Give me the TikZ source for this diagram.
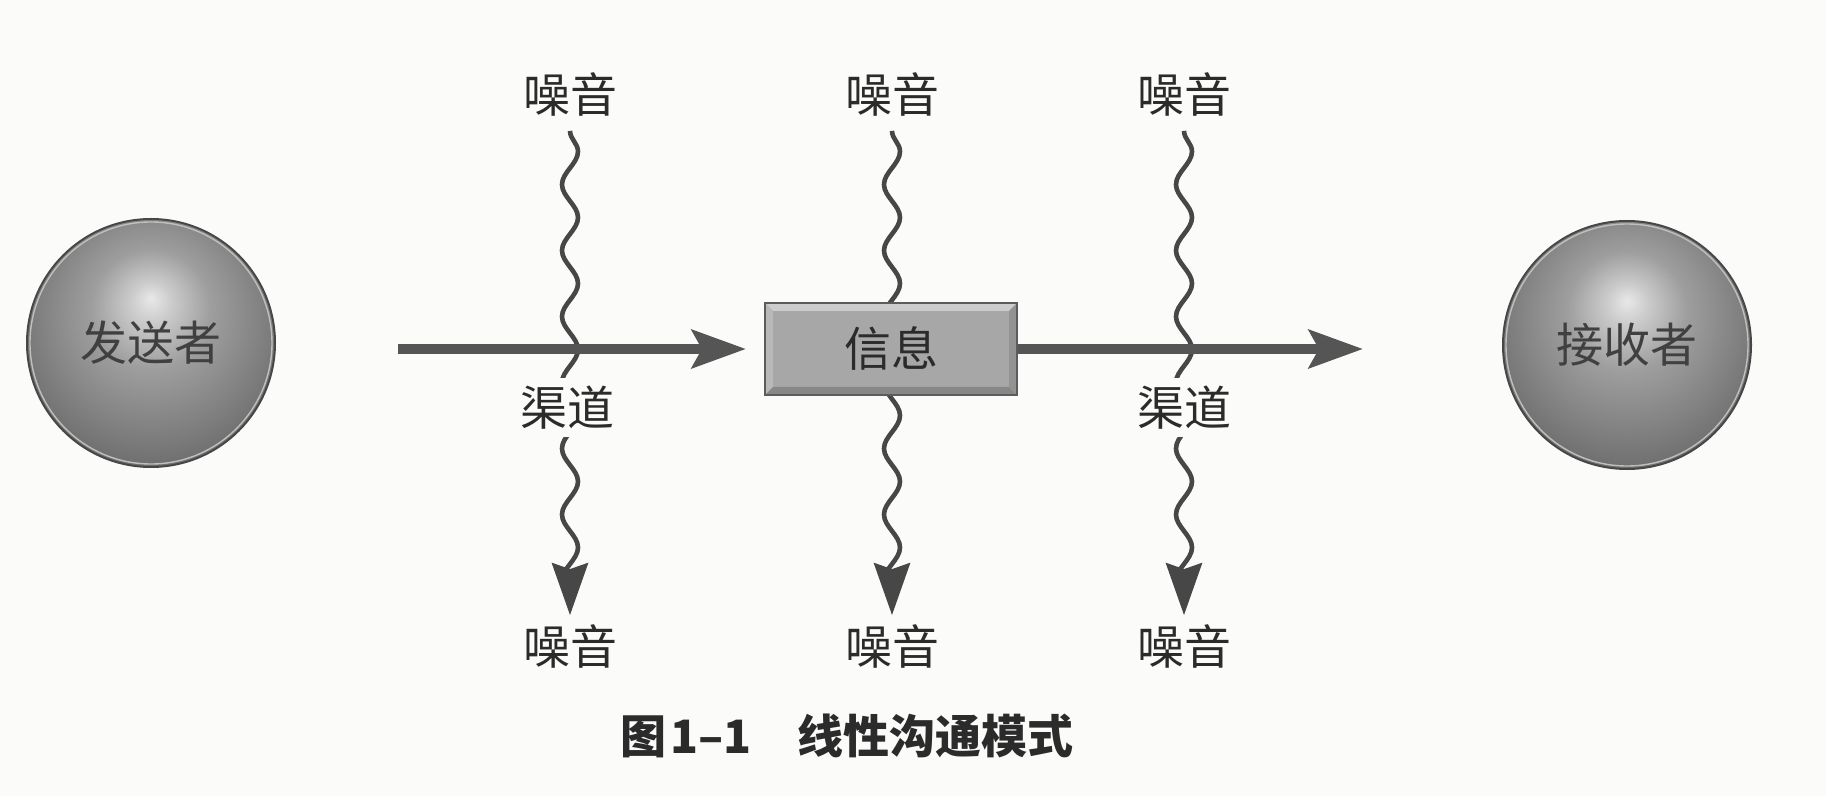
\documentclass[tikz,border=0pt]{standalone}
\usepackage{fontspec}
\newfontfamily\cjk{Noto Sans CJK SC}
\usetikzlibrary{arrows.meta,decorations.pathmorphing,calc}

\definecolor{ink}{HTML}{2B2B2B}
\definecolor{arrowgray}{HTML}{555555}
\definecolor{wavegray}{HTML}{474747}
\definecolor{boxgray}{HTML}{A7A7A7}
\definecolor{boxlight}{HTML}{CDCDCD}
\definecolor{boxmid}{HTML}{B9B9B9}
\definecolor{boxdark}{HTML}{878787}
\definecolor{boxedge}{HTML}{5C5C5C}
\definecolor{paper}{HTML}{FBFBF9}

% gray sphere with a highlight above the centre
\pgfdeclareradialshading{sphereshade}{\pgfqpoint{0bp}{9bp}}{%
  color(0bp)=(black!9); color(4bp)=(black!20); color(12bp)=(black!38);
  color(22bp)=(black!49); color(30bp)=(black!58); color(50bp)=(black!62)}

\tikzset{
  % node boxes that hug the ideographic em box (0.88 above, 0.12 below the baseline)
  bigtext/.style={font=\cjk\fontsize{23.5pt}{23.5pt}\selectfont,
    text height=20.7pt, text depth=2.8pt},
  captiontext/.style={font=\cjk\bfseries\fontsize{23pt}{23pt}\selectfont,
    text height=20.2pt, text depth=2.8pt},
  sphere/.style={circle, minimum size=124pt, inner sep=0pt, shading=sphereshade,
    draw=black!72, line width=1pt, text=ink!90, bigtext},
  msgbox/.style={rectangle, minimum width=126pt, minimum height=46pt, inner sep=0pt,
    fill=boxgray, draw=boxedge, line width=1pt, text=ink, bigtext,
    path picture={
      \coordinate (nw) at (path picture bounding box.north west);
      \coordinate (ne) at (path picture bounding box.north east);
      \coordinate (sw) at (path picture bounding box.south west);
      \coordinate (se) at (path picture bounding box.south east);
      \fill[boxlight] (nw) -- (ne) -- ([shift={(-4pt,-4pt)}]ne) -- ([shift={(4pt,-4pt)}]nw) -- cycle;
      \fill[boxmid] (nw) -- (sw) -- ([shift={(4pt,4pt)}]sw) -- ([shift={(4pt,-4pt)}]nw) -- cycle;
      \fill[boxdark] (sw) -- (se) -- ([shift={(-4pt,4pt)}]se) -- ([shift={(4pt,4pt)}]sw) -- cycle;
      \fill[boxdark!90!white] (ne) -- (se) -- ([shift={(-4pt,4pt)}]se) -- ([shift={(-4pt,-4pt)}]ne) -- cycle;
    }},
  label/.style={inner sep=0pt, text=ink, bigtext},
  channel/.style={label, fill=paper, inner xsep=0pt, inner ysep=3pt},
  mainarrow/.style={draw=arrowgray, line width=5pt,
    -{Stealth[length=27pt, width=19pt, inset=5pt]}},
  noise/.style={draw=wavegray, line width=2.3pt, decorate,
    decoration={snake, segment length=33pt, amplitude=4pt, post length=4pt},
    -{Stealth[length=26pt, width=18pt, inset=3pt]}},
}

\begin{document}
\begin{tikzpicture}[x=0.5pt, y=-0.5pt]
  % page frame
  \fill[paper] (0,0) rectangle (1826,796);
  \useasboundingbox (0,0) rectangle (1826,796);

  % noise labels above and below
  \node[label] (nt1) at (570,95) {噪音};
  \node[label] (nt2) at (892,95) {噪音};
  \node[label] (nt3) at (1184,95) {噪音};
  \node[label] (nb1) at (570,647) {噪音};
  \node[label] (nb2) at (892,647) {噪音};
  \node[label] (nb3) at (1184,647) {噪音};

  % wavy noise lines, leaving a small gap under and above the labels
  \draw[noise] ([yshift=-6pt]nt1.south) -- ([yshift=4pt]nb1.north);
  \draw[noise] ([yshift=-6pt]nt2.south) -- ([yshift=4pt]nb2.north);
  \draw[noise] ([yshift=-6pt]nt3.south) -- ([yshift=4pt]nb3.north);

  % sender, message and receiver
  \node[sphere] (sender) at (151,343) {发送者};
  \node[sphere] (receiver) at (1627,345) {接收者};
  \draw[white!75!black, line width=0.7pt] (sender) circle[radius=121];
  \draw[white!75!black, line width=0.7pt] (receiver) circle[radius=121];
  \node[msgbox] (msg) at (891,349) {信息};

  % main flow
  \draw[mainarrow, shorten <=61pt, shorten >=9pt] (sender.east |- msg.west) -- (msg.west);
  \draw[mainarrow, shorten >=69.5pt] (msg.east) -- (receiver.west |- msg.east);

  % channel labels
  \node[channel] (ch1) at (567,408) {渠道};
  \node[channel] (ch2) at (1184,408) {渠道};

  % caption
  \node[text=ink, inner sep=0pt, captiontext]
    (caption) at (847,736) {图\hspace{2pt}1–1\hspace{23pt}线性沟通模式};
\end{tikzpicture}
\end{document}
